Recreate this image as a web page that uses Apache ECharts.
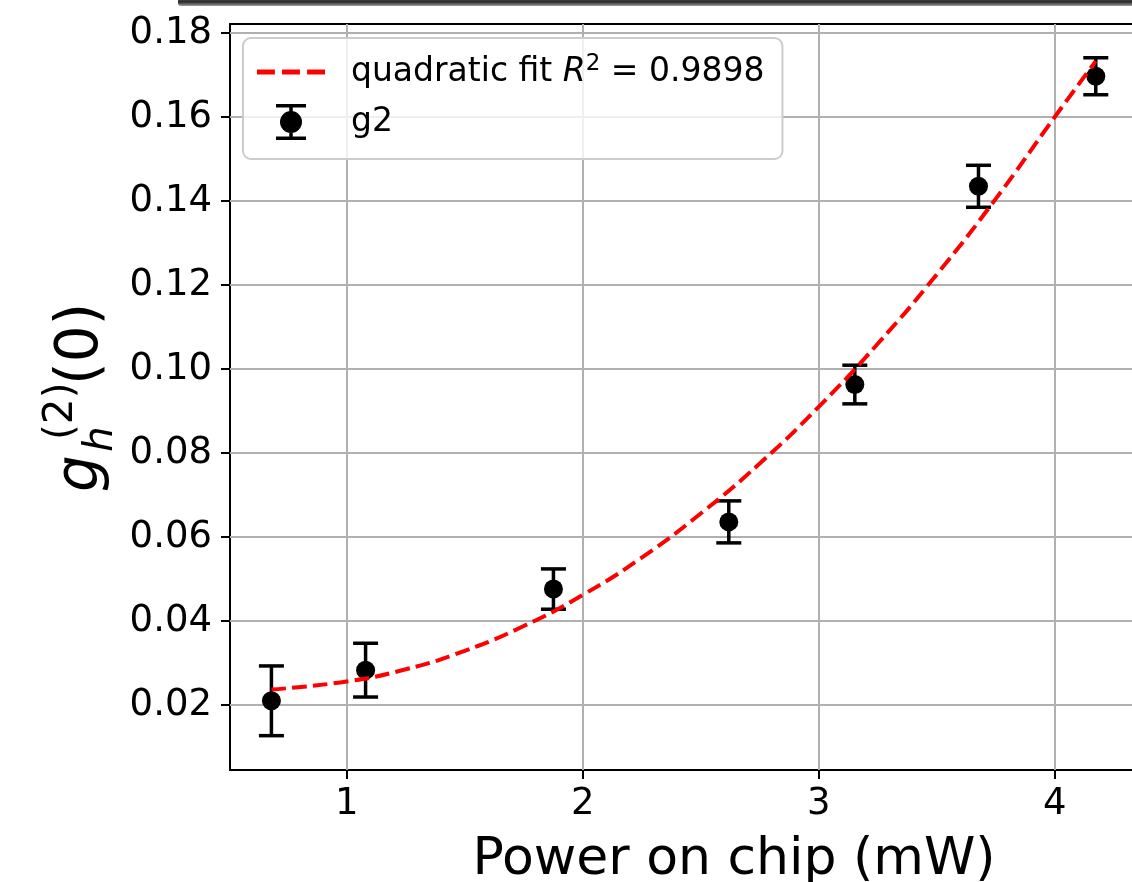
<!DOCTYPE html>
<html>
<head>
<meta charset="utf-8">
<script src="https://cdn.jsdelivr.net/npm/echarts@6/dist/echarts.min.js"></script>
<style>
  html, body { margin: 0; padding: 0; background: #fff; }
  #chart { width: 1132px; height: 882px; }
</style>
</head>
<body>
<div id="chart"></div>
<script>
// ---- data ----
const power = [0.681, 1.080, 1.876, 2.619, 3.153, 3.677, 4.174];          // mW
const g2 = [0.0210, 0.0283, 0.0476, 0.0636, 0.0963, 0.1435, 0.1697];       // g_h^(2)(0)
const g2Err = [0.0083, 0.0064, 0.0048, 0.0050, 0.0046, 0.0050, 0.0044];    // error bar half-length
const fitX = [0.681, 1.0, 1.25, 1.5, 1.75, 2.0, 2.25, 2.5, 2.75, 3.0, 3.25, 3.5, 3.75, 4.0, 4.174];
const fitY = [0.0237, 0.0256, 0.0285, 0.0329, 0.0388, 0.0462, 0.0551, 0.0656, 0.0775, 0.0910, 0.1060, 0.1225, 0.1405, 0.1600, 0.1733];
const xTicks = [1, 2, 3, 4];
const yTicks = [0.02, 0.04, 0.06, 0.08, 0.10, 0.12, 0.14, 0.16, 0.18];
const fitName = 'quadratic fit';
const dataName = 'g2';
const xLabel = 'Power on chip (mW)';

const FONT = 'DejaVu Sans';
const X_MIN = 0.5055, X_MAX = 4.3275, Y_MIN = 0.004524, Y_MAX = 0.18214;
const chart = echarts.init(document.getElementById('chart'), null, { renderer: 'canvas' });

const gridLines = yTicks.map(v => ({ yAxis: v })).concat(xTicks.map(v => ({ xAxis: v })));
const spine = { show: true, lineStyle: { color: '#000', width: 2 } };

const option = {
  animation: false,
  backgroundColor: '#ffffff',
  grid: { left: 230, top: 24, right: 0, bottom: 112, containLabel: false, outerBoundsMode: 'none' },
  xAxis: [{
    type: 'value', min: X_MIN, max: X_MAX,
    name: xLabel, nameLocation: 'middle', nameGap: 64,
    nameTextStyle: { fontFamily: FONT, fontSize: 52, color: '#000', padding: [0, 0, 0, 106] },
    axisLine: spine,
    axisTick: { show: true, length: 9, lineStyle: { color: '#000', width: 2 }, customValues: xTicks },
    axisLabel: { customValues: xTicks, margin: 16, fontFamily: FONT, fontSize: 37, color: '#000',
                 formatter: v => String(v) },
    splitLine: { show: false }
  }, {
    type: 'value', position: 'top', min: X_MIN, max: X_MAX,
    axisLine: spine, axisTick: { show: false }, axisLabel: { show: false }, splitLine: { show: false }
  }],
  yAxis: {
    type: 'value', min: Y_MIN, max: Y_MAX,
    axisLine: spine,
    axisTick: { show: true, length: 9, lineStyle: { color: '#000', width: 2 }, customValues: yTicks },
    axisLabel: { customValues: yTicks, margin: 18, fontFamily: FONT, fontSize: 37, color: '#000',
                 formatter: v => v.toFixed(2) },
    splitLine: { show: false }
  },
  legend: {
    orient: 'vertical', left: 243, top: 38,
    padding: [15, 18, 18, 14],
    itemWidth: 68, itemHeight: 36, itemGap: 12,
    selectedMode: false,
    backgroundColor: 'rgba(255,255,255,0.8)', borderColor: '#cccccc', borderWidth: 2, borderRadius: 8,
    itemStyle: { borderWidth: 0 },
    textStyle: {
      fontFamily: FONT, fontSize: 33, color: '#000', lineHeight: 38, padding: [0, 0, 0, 21],
      rich: {
        i: { fontFamily: FONT, fontSize: 33, fontStyle: 'italic', color: '#000' },
        s: { fontFamily: FONT, fontSize: 23, color: '#000', verticalAlign: 'top', lineHeight: 22 }
      }
    },
    formatter: name => name === fitName ? 'quadratic fit {i|R}{s|2} = 0.9898' : name,
    data: [
      { name: fitName, icon: 'path://M0,0H15V4H0Z M21,0H36V4H21Z M42,0H57V4H42Z' },
      { name: dataName, icon: 'path://M0,0H30V3.5H0Z M13.25,3.5H16.75V32.5H13.25Z M0,32.5H30V36H0Z M4,18A11,11 0 1 1 26,18A11,11 0 1 1 4,18Z' }
    ]
  },
  series: [
    {
      name: dataName,
      type: 'custom',
      z: 2,
      itemStyle: { color: '#000' },
      data: power.map((p, i) => [p, g2[i], g2Err[i]]),
      encode: { x: 0, y: 1 },
      renderItem: function (params, api) {
        const x = api.value(0), y = api.value(1), e = api.value(2);
        const c = api.coord([x, y]);
        const t = api.coord([x, y + e]);
        const b = api.coord([x, y - e]);
        const half = 12.5;
        const ls = { stroke: '#000', lineWidth: 3.5 };
        return {
          type: 'group',
          children: [
            { type: 'line', shape: { x1: t[0], y1: t[1], x2: b[0], y2: b[1] }, style: ls },
            { type: 'line', shape: { x1: t[0] - half, y1: t[1], x2: t[0] + half, y2: t[1] }, style: ls },
            { type: 'line', shape: { x1: b[0] - half, y1: b[1], x2: b[0] + half, y2: b[1] }, style: ls },
            { type: 'circle', shape: { cx: c[0], cy: c[1], r: 9.5 }, style: { fill: '#000' } }
          ]
        };
      },
      markLine: {
        silent: true, z: 1, symbol: 'none', animation: false,
        label: { show: false },
        emphasis: { disabled: true },
        lineStyle: { color: '#b0b0b0', width: 2, type: 'solid' },
        data: gridLines
      }
    },
    {
      name: fitName,
      type: 'line',
      z: 3,
      smooth: true,
      symbol: 'none',
      itemStyle: { color: 'red' },
      lineStyle: { color: 'red', width: 4, type: [14.6, 6.3] },
      data: fitX.map((x, i) => [x, fitY[i]])
    }
  ],
  graphic: [
    {
      type: 'rect', left: 178, top: -2, z: 100, silent: true,
      shape: { width: 980, height: 8, r: 3 },
      style: {
        fill: new echarts.graphic.LinearGradient(0, 0, 0, 1, [
          { offset: 0, color: '#555' }, { offset: 0.5, color: '#2a2a2a' }, { offset: 1, color: '#a0a0a0' }
        ])
      }
    },
    // y-axis label  g_h^(2)(0)  (rotated, reading bottom to top)
    { type: 'text', x: 82, y: 492, rotation: Math.PI / 2, silent: true,
      style: { text: 'g', fontFamily: FONT, fontSize: 58, fontStyle: 'italic', fill: '#000',
               align: 'left', verticalAlign: 'middle', textAlign: 'left', textVerticalAlign: 'middle' } },
    { type: 'text', x: 101, y: 452, rotation: Math.PI / 2, silent: true,
      style: { text: 'h', fontFamily: FONT, fontSize: 40.6, fontStyle: 'italic', fill: '#000',
               align: 'left', verticalAlign: 'middle', textAlign: 'left', textVerticalAlign: 'middle' } },
    { type: 'text', x: 61, y: 440, rotation: Math.PI / 2, silent: true,
      style: { text: '(2)', fontFamily: FONT, fontSize: 40.6, fill: '#000',
               align: 'left', verticalAlign: 'middle', textAlign: 'left', textVerticalAlign: 'middle' } },
    { type: 'text', x: 82, y: 385, rotation: Math.PI / 2, silent: true,
      style: { text: '(0)', fontFamily: FONT, fontSize: 58, fill: '#000',
               align: 'left', verticalAlign: 'middle', textAlign: 'left', textVerticalAlign: 'middle' } }
  ]
};
chart.setOption(option);
</script>
</body>
</html>
